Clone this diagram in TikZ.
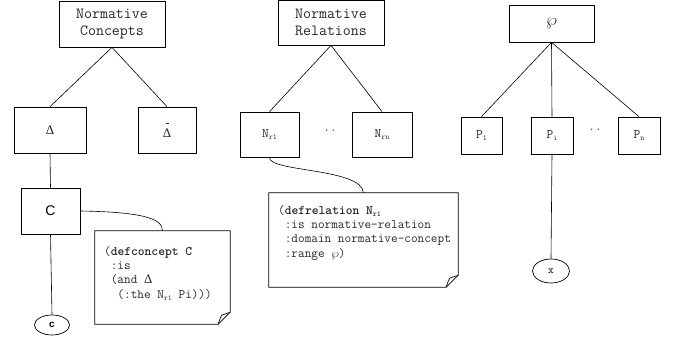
\documentclass[tikz,border=0pt]{standalone}
\usepackage{fontspec}
\usepackage{graphicx}
\setmainfont{Liberation Serif}
\setsansfont{Liberation Sans}
\usetikzlibrary{calc,shapes.geometric}
\newcommand\mysub[1]{\raisebox{-0.45ex}{\scalebox{0.6}{#1}}}
\newcommand\ind{\mbox{\ }}
\newcommand\dogear[1]{%
  \draw[noteline] (#1.north west) -- (#1.north east) -- ($(#1.south east)+(0,-12)$)
    -- ($(#1.south east)+(-12,0)$) -- (#1.south west) -- cycle;
  \draw[noteline] ($(#1.south east)+(-12,0)$) .. controls ($(#1.south east)+(-10,-6)$) .. ($(#1.south east)+(-8.5,-9)$)
    .. controls ($(#1.south east)+(-4,-10)$) .. ($(#1.south east)+(0,-12)$);
}
\begin{document}
\begin{tikzpicture}[x=1pt,y=-1pt,
  box/.style={draw, line width=0.7pt, inner sep=0pt, align=center,
    font=\fontsize{15.5}{16.5}\selectfont\ttfamily, text=black!85},
  smallbox/.style={box, font=\fontsize{13}{14}\selectfont\ttfamily},
  notebox/.style={draw=none, inner sep=0pt},
  noteline/.style={line width=0.7pt},
  notetext/.style={anchor=north west, inner sep=0pt, align=left,
    font=\fontsize{12.9}{14.3}\selectfont\ttfamily, text=black!85},
  leaf/.style={draw, ellipse, line width=0.7pt, inner sep=0pt},
  conn/.style={line width=0.6pt},
  dots/.style={inner sep=0pt, font=\fontsize{13}{14}\selectfont\ttfamily, text=black!75}
]
\useasboundingbox (0,0) rectangle (683,347);

% left tree
\node[box, minimum width=106, minimum height=46] (nc) at (112,24) {Normative\\Concepts};
\node[box, minimum width=72, minimum height=46, font=\fontsize{13}{15}\selectfont\rmfamily] (delta) at (50,130) {Δ};
\node[box, minimum width=58, minimum height=46, font=\fontsize{13}{15}\selectfont\rmfamily] (deltab) at (167,130) {\shortstack{\rule{3pt}{0.6pt}\\[2pt]Δ}};
\node[box, minimum width=59, minimum height=46, font=\fontsize{14}{16}\selectfont\sffamily, text=black] (C) at (50.5,211) {C};
\node[notebox, minimum width=135, minimum height=93] (n1) at (162.5,277.5) {};
\dogear{n1}
\node[notetext] (t1) at (104,246) {(\textbf{defconcept C}\\\ind:is\\\ind(and {\rmfamily Δ}\\\ind\ind(:the N\mysub{r1} Pi)))};
\node[leaf, minimum width=35, minimum height=20, font=\fontsize{10}{11}\selectfont\sffamily\bfseries] (c) at (52,325) {c};

\draw[conn] (nc.south) -- (delta.north);
\draw[conn] (nc.south) -- (deltab.north);
\draw[conn] (delta.south) -- (C.north);
\draw[conn] (C.south) -- (c.north);
\draw[conn] (C.east) .. controls (140,212) and (163,218) .. (n1.north);

% middle tree
\node[box, minimum width=106, minimum height=45] (nr) at (331,22.5) {Normative\\Relations};
\node[smallbox, minimum width=59, minimum height=45] (nr1) at (269.5,134.5) {N\mysub{r1}};
\node[smallbox, minimum width=60, minimum height=45] (nrn) at (382,134.5) {N\mysub{rn}};
\node[dots] (d1) at (330,131) {..};
\node[notebox, minimum width=189, minimum height=94] (n2) at (363.5,240) {};
\dogear{n2}
\node[notetext] (t2) at (278,205) {(\textbf{defrelation N\mysub{r1}}\\\ind:is normative-relation\\\ind:domain normative-concept\\\ind:range $\wp$)};

\draw[conn] (nr.south) -- (nr1.north);
\draw[conn] (nr.south) -- (nrn.north);
\draw[conn] (nr1.south) .. controls (268,172) and (362,168) .. (n2.north);

% right tree
\node[box, minimum width=85, minimum height=37, font=\fontsize{19}{21}\selectfont] (wp) at (551.5,23.5) {$\wp$};
\node[smallbox, minimum width=41, minimum height=37] (p1) at (481.5,135.5) {P\mysub{1}};
\node[smallbox, minimum width=42, minimum height=37] (pi) at (552,135.5) {P\mysub{i}};
\node[smallbox, minimum width=42, minimum height=37] (pn) at (639,135.5) {P\mysub{n}};
\node[dots] (d2) at (595,130) {..};
\node[leaf, minimum width=37, minimum height=24, font=\fontsize{11}{12}\selectfont\ttfamily] (x) at (551,271) {x};

\draw[conn] (wp.south) -- (p1.north);
\draw[conn] (wp.south) -- (pi.north);
\draw[conn] (wp.south) -- (pn.north);
\draw[conn] (pi.south) -- (x.north);
\end{tikzpicture}
\end{document}
